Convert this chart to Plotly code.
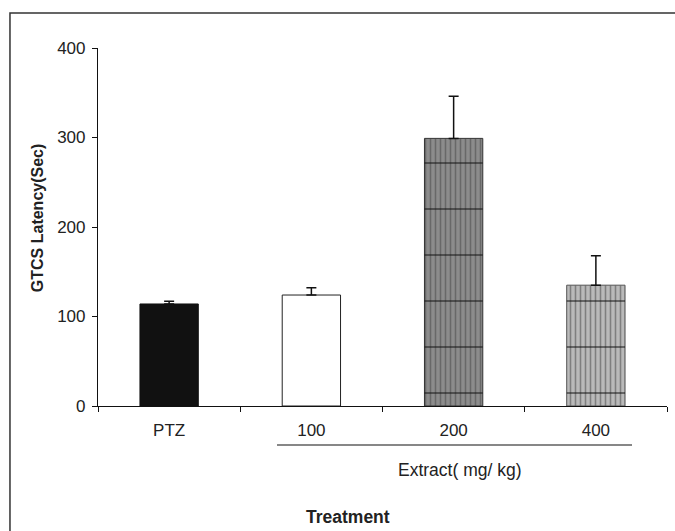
import plotly.graph_objects as go

categories = ["PTZ", "100", "200", "400"]
latency = [114, 124, 299, 135]
sem = [3, 8, 47, 33]
significance = ["", "", "***", ""]

fill_colors = ["#111111", "#ffffff", "#8c8c8c", "#bababa"]
line_colors = ["#111111", "#222222", "#333333", "#555555"]
vert_shapes = ["", "", "|", "|"]
horiz_shapes = ["", "", "-", "-"]

FONT = "Liberation Sans, Arial, sans-serif"
TXT = "#222222"

fig = go.Figure()
fig.add_trace(go.Bar(
    x=categories, y=latency, width=0.41,
    marker=dict(
        color=fill_colors,
        line=dict(color=line_colors, width=1),
        pattern=dict(shape=vert_shapes, fgcolor="#1a1a1a", size=5, solidity=0.32, fillmode="overlay"),
    ),
    error_y=dict(type="data", array=sem, arrayminus=[0] * len(sem), symmetric=False,
                 color="#111111", thickness=1.5, width=5),
    showlegend=False,
))
fig.add_trace(go.Bar(
    x=categories, y=latency, width=0.41,
    marker=dict(
        color="rgba(0,0,0,0)",
        line=dict(width=0),
        pattern=dict(shape=horiz_shapes, fgcolor="#111111", bgcolor="rgba(0,0,0,0)", size=46, solidity=0.04),
    ),
    showlegend=False, hoverinfo="skip",
))

for c, v, e, s in zip(categories, latency, sem, significance):
    if s:
        fig.add_annotation(x=c, y=v + e, text=s, showarrow=False, yshift=25,
                           font=dict(family=FONT, size=16, color="#555555"))

# Group label line and texts
fig.add_shape(type="line", xref="paper", yref="paper", x0=0.3146, x1=0.9385, y0=-0.109, y1=-0.109,
              line=dict(color="#111111", width=1.2))
fig.add_annotation(xref="paper", yref="paper", x=0.636, y=-0.179, xanchor="center", yanchor="middle",
                   text="Extract( mg/ kg)", showarrow=False,
                   font=dict(family=FONT, size=17.5, color=TXT))
fig.add_annotation(xref="paper", yref="paper", x=0.439, y=-0.310, xanchor="center", yanchor="middle",
                   text="<b>Treatment</b>", showarrow=False,
                   font=dict(family=FONT, size=17.5, color=TXT))
fig.add_annotation(xref="paper", yref="paper", x=-0.107, y=0.525, xanchor="center", yanchor="middle",
                   text="<b>GTCS Latency(Sec)</b>", showarrow=False,
                   textangle=-90, font=dict(family=FONT, size=16, color=TXT))
# Outer frame
fig.add_shape(type="rect", xref="paper", yref="paper", x0=-0.1547, x1=1.05, y0=-0.40, y1=1.0978,
              line=dict(color="#333333", width=1.5), fillcolor="rgba(0,0,0,0)", layer="below")

fig.update_layout(
    width=675, height=531,
    margin=dict(l=98, r=8, t=48, b=125),
    plot_bgcolor="white", paper_bgcolor="white",
    barmode="overlay",
    font=dict(family=FONT, size=17, color=TXT),
    xaxis=dict(type="category", range=[-0.5, 3.5], showline=True, linecolor="#111111", linewidth=1.2,
               ticks="outside", tickson="boundaries", ticklen=5, tickcolor="#111111",
               showgrid=False, ticklabelstandoff=8, tickfont=dict(size=17)),
    yaxis=dict(range=[0, 400], tickvals=[0, 100, 200, 300, 400], showline=True, linecolor="#111111",
               linewidth=1.2, ticks="outside", ticklen=5, tickcolor="#111111", showgrid=False,
               zeroline=False, tickfont=dict(size=17), ticklabelstandoff=3),
)

fig.write_html("out.html", config={"displayModeBar": False},
               post_script="document.body.style.margin='0';document.body.style.overflow='hidden';")
